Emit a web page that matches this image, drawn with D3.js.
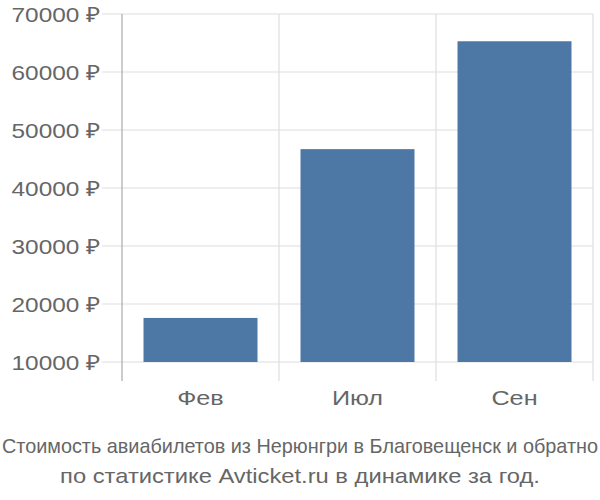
<!DOCTYPE html>
<html><head><meta charset="utf-8">
<script src="https://cdn.jsdelivr.net/npm/d3@7"></script>
<style>body{margin:0;background:#fff}svg{display:block}</style>
</head><body>
<svg id="c" width="600" height="500"></svg>
<script>
const categories = ["Фев", "Июл", "Сен"];
const values = [17600, 46700, 65300];
const yTicks = [10000, 20000, 30000, 40000, 50000, 60000, 70000];
const titleLines = ["Стоимость авиабилетов из Нерюнгри в Благовещенск и обратно", "по статистике Avticket.ru в динамике за год."];

(function () {
const svg = d3.select("#c");
const pLeft = 122, pRight = 593, pTop = 14, pBase = 362;
const x = d3.scaleBand().domain(categories).range([pLeft, pRight]).paddingInner(0.274).paddingOuter(0.137);
const y = d3.scaleLinear().domain([10000, 70000]).range([pBase, pTop]);
const font = "'Liberation Sans', Arial, sans-serif";
const fs = 21, stretch = 1.16;
function widen(sel, k) {
  sel.each(function () {
    const w = this.getComputedTextLength();
    d3.select(this).attr("textLength", w * k).attr("lengthAdjust", "spacingAndGlyphs");
  });
}

// horizontal grid
svg.selectAll("line.h").data(yTicks).enter().append("line")
  .attr("x1", 102).attr("x2", pRight).attr("y1", d => y(d)).attr("y2", d => y(d))
  .attr("stroke", "#dedede").attr("stroke-width", 1.2);
// vertical grid at band boundaries
const step = x.step();
const bounds = categories.map((c, i) => pLeft + i * step).concat([pRight]);
svg.selectAll("line.v").data(bounds).enter().append("line")
  .attr("x1", d => d).attr("x2", d => d).attr("y1", pTop).attr("y2", 381)
  .attr("stroke", (d, i) => i === 0 ? "#aaaaaa" : "#dedede").attr("stroke-width", 1.2);

// bars
svg.selectAll("rect").data(values).enter().append("rect")
  .attr("x", (d, i) => x(categories[i])).attr("width", x.bandwidth())
  .attr("y", d => y(d)).attr("height", d => pBase - y(d))
  .attr("fill", "#4d78a5");

// y labels
svg.selectAll("text.y").data(yTicks).enter().append("text")
  .attr("x", 100).attr("y", d => y(d) + 8).attr("text-anchor", "end")
  .attr("font-family", font).attr("font-size", fs).attr("fill", "#666")
  .text(d => d + " ₽").call(widen, stretch);

// x labels
svg.selectAll("text.x").data(categories).enter().append("text")
  .attr("x", d => x(d) + x.bandwidth() / 2).attr("y", 405).attr("text-anchor", "middle")
  .attr("font-family", font).attr("font-size", fs).attr("fill", "#666")
  .text(d => d).call(widen, 1.2);

// title
svg.append("text").attr("x", 300).attr("y", 453).attr("text-anchor", "middle")
  .attr("font-family", font).attr("font-size", fs).attr("fill", "#666")
  .attr("textLength", 596).attr("lengthAdjust", "spacingAndGlyphs")
  .text(titleLines[0]);
svg.append("text").attr("x", 300).attr("y", 483).attr("text-anchor", "middle")
  .attr("font-family", font).attr("font-size", fs).attr("fill", "#666")
  .text(titleLines[1]).call(widen, 1.13);
})();
</script>
</body></html>
